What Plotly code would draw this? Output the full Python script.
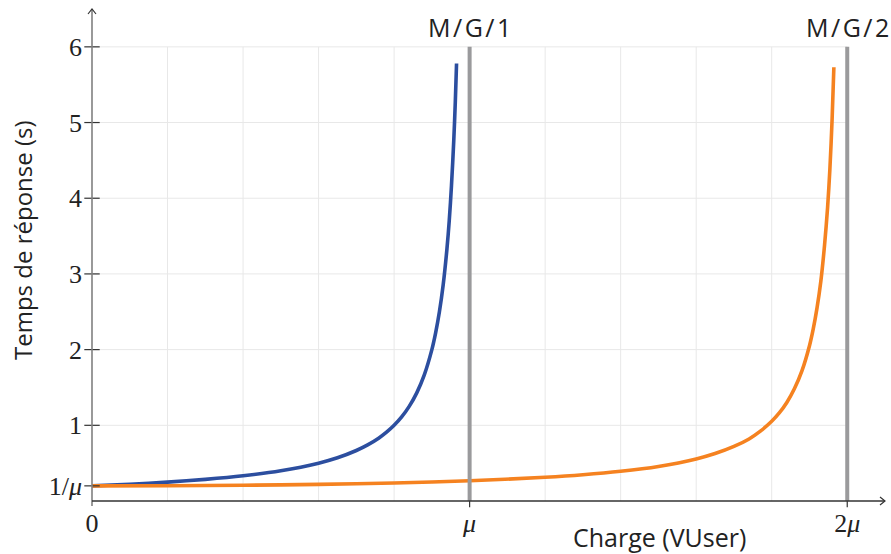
import plotly.graph_objects as go

# ---- data (x in load units where mu = 5, y = response time in s) ----
mg1_x = [0, 0.5, 1, 1.5, 2, 2.5, 3, 3.25, 3.5, 3.65, 3.8, 3.9, 4, 4.1, 4.2, 4.3,
         4.4, 4.5, 4.55, 4.6, 4.65, 4.7, 4.73, 4.76, 4.79, 4.81, 4.827]
mg1_y = [0.20, 0.222, 0.25, 0.286, 0.333, 0.40, 0.50, 0.571, 0.667, 0.741,
         0.833, 0.909, 1.00, 1.111, 1.25, 1.429, 1.667, 2.0, 2.222, 2.5, 2.857,
         3.333, 3.70, 4.17, 4.76, 5.26, 5.78]
mg2_x = [0, 1, 2, 3, 4, 5, 6, 6.5, 7, 7.5, 8, 8.25, 8.5, 8.7, 8.85, 9, 9.1, 9.2,
         9.3, 9.4, 9.5, 9.55, 9.6, 9.65, 9.7, 9.74, 9.77, 9.8, 9.823]
mg2_y = [0.20, 0.202, 0.208, 0.220, 0.238, 0.267, 0.313, 0.346, 0.392, 0.457,
         0.556, 0.627, 0.721, 0.820, 0.923, 1.053, 1.163, 1.302, 1.482, 1.718,
         2.051, 2.273, 2.551, 2.90, 3.384, 3.88, 4.38, 5.05, 5.73]
capacity_x = [5, 10]
capacity_labels = ["M\u200a/\u200aG\u200a/\u200a1", "M\u200a/\u200aG\u200a/\u200a2"]
x_tickvals = [0, 5, 10]
x_ticktext = ["0", "<i>μ</i>", "2<i>μ</i>"]
y_tickvals = [0.2, 1, 2, 3, 4, 5, 6]
y_ticktext = ["1/<i>μ</i>", "1", "2", "3", "4", "5", "6"]
grid_x = [1, 2, 3, 4, 5, 6, 7, 8, 9, 10]
grid_y = [1, 2, 3, 4, 5, 6]

BLUE = "#2c4e9f"
ORANGE = "#f58220"
GRAY = "#9a9a9c"
SANS = "Open Sans"
SERIF = "Liberation Serif"

fig = go.Figure()

fig.add_trace(go.Scatter(x=mg1_x, y=mg1_y, mode="lines", line=dict(color=BLUE, width=3.6, shape="spline", smoothing=0.8),
                         showlegend=False, hoverinfo="skip", cliponaxis=False))
fig.add_trace(go.Scatter(x=mg2_x, y=mg2_y, mode="lines", line=dict(color=ORANGE, width=3.6, shape="spline", smoothing=0.8),
                         showlegend=False, hoverinfo="skip", cliponaxis=False))

# tick marks crossing axes
fig.add_trace(go.Scatter(x=[0] * len(y_tickvals), y=y_tickvals, mode="markers",
                         marker=dict(symbol="line-ew", size=11, line=dict(color="#333333", width=1.2)),
                         showlegend=False, hoverinfo="skip", cliponaxis=False))
fig.add_trace(go.Scatter(x=x_tickvals[1:], y=[0] * (len(x_tickvals) - 1), mode="markers",
                         marker=dict(symbol="line-ns", size=9, line=dict(color="#333333", width=1.2)),
                         showlegend=False, hoverinfo="skip", cliponaxis=False))

shapes = []
for gx in grid_x:
    shapes.append(dict(type="line", xref="x", yref="y", x0=gx, x1=gx, y0=0, y1=max(grid_y),
                       line=dict(color="#e8e8e8", width=1), layer="below"))
for gy in grid_y:
    shapes.append(dict(type="line", xref="x", yref="y", x0=0, x1=max(grid_x), y0=gy, y1=gy,
                       line=dict(color="#e8e8e8", width=1), layer="below"))
for cx in capacity_x:
    shapes.append(dict(type="line", xref="x", yref="y", x0=cx, x1=cx, y0=0, y1=max(grid_y),
                       line=dict(color=GRAY, width=4), layer="above"))

# axes lines with arrows (paper coords)
W, H = 891, 554
ml, mr, mt, mb = 92, 6, 9, 53
pw, ph = W - ml - mr, H - mt - mb
px = lambda p: p / pw
py = lambda p: p / ph
shapes.append(dict(type="line", xref="paper", yref="paper", x0=0, x1=0, y0=-py(5), y1=1,
                   line=dict(color="#808080", width=1.6)))
shapes.append(dict(type="path", xref="paper", yref="paper",
                   path=f"M {-px(4)},{1 - py(5)} L 0,1 L {px(4)},{1 - py(5)}",
                   line=dict(color="#333333", width=1.2)))
shapes.append(dict(type="line", xref="paper", yref="paper", x0=0, x1=1, y0=0, y1=0,
                   line=dict(color="#333333", width=1.4)))
shapes.append(dict(type="path", xref="paper", yref="paper",
                   path=f"M {1 - px(5)},{py(4)} L 1,0 L {1 - px(5)},{-py(4)}",
                   line=dict(color="#333333", width=1.2)))

annotations = []
for cx, lab in zip(capacity_x, capacity_labels):
    annotations.append(dict(x=cx, y=6, xref="x", yref="y", text=lab, showarrow=False,
                            yanchor="bottom", yshift=1, font=dict(family=SANS, size=25, color="#222222")))
annotations.append(dict(x=(659 - ml) / pw, y=-(537 - (mt + ph)) / ph, xref="paper", yref="paper",
                        text="Charge (VUser)", showarrow=False, xanchor="center", yanchor="middle",
                        font=dict(family=SANS, size=25, color="#222222")))
annotations.append(dict(x=-(ml - 22) / pw, y=(mt + ph - 240) / ph, xref="paper", yref="paper",
                        text="Temps de réponse (s)", showarrow=False, textangle=-90,
                        xanchor="center", yanchor="middle",
                        font=dict(family=SANS, size=24, color="#222222")))

fig.update_layout(
    width=W, height=H,
    margin=dict(l=ml, r=mr, t=mt, b=mb, autoexpand=False),
    paper_bgcolor="white", plot_bgcolor="white",
    shapes=shapes, annotations=annotations,
    xaxis=dict(range=[0, 10.5], showgrid=False, zeroline=False, showline=False, automargin=False,
               tickmode="array", tickvals=x_tickvals, ticktext=x_ticktext, ticks="",
               tickfont=dict(family=SERIF, size=26, color="#222222"), ticklabelstandoff=4),
    yaxis=dict(range=[0, 6.5], showgrid=False, zeroline=False, showline=False, automargin=False,
               tickmode="array", tickvals=y_tickvals, ticktext=y_ticktext, ticks="",
               tickfont=dict(family=SERIF, size=26, color="#222222"), ticklabelstandoff=9),
)

fig.write_html("out.html", config={"displayModeBar": False},
               post_script="document.body.style.margin='0px';document.body.style.overflow='hidden';")
